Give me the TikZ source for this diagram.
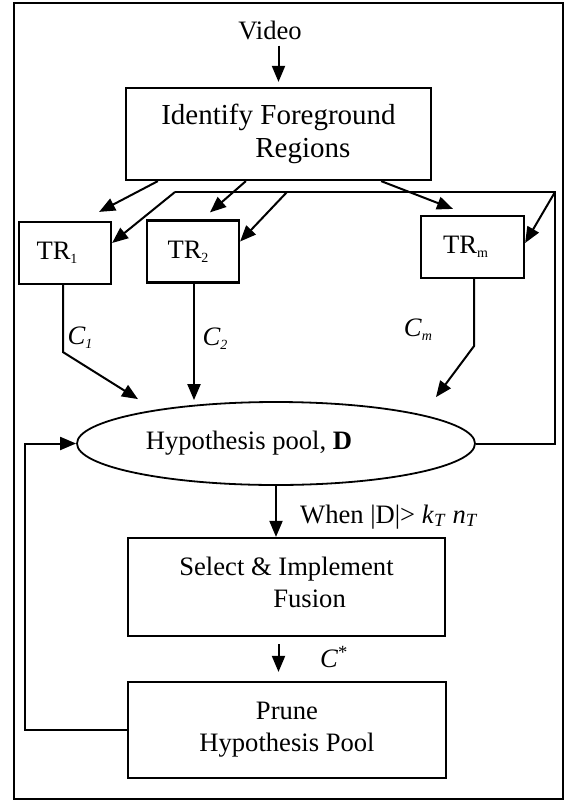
\documentclass[tikz,border=0pt]{standalone}
\usepackage{fontspec}
\setmainfont{Liberation Serif}
\usetikzlibrary{shapes,arrows.meta}
\newcommand{\smallidx}[1]{\raisebox{-4pt}{\fontsize{14}{14}\selectfont #1}}
\tikzset{
  txt/.style={font=\fontsize{26.6}{32}\selectfont},
  blk/.style={txt, draw=black, line width=2.2pt, inner sep=0pt, align=center},
  trk/.style={blk, minimum width=92pt, minimum height=62pt},
  pool/.style={txt, ellipse, draw=black, line width=1.8pt, inner sep=0pt, minimum width=398pt, minimum height=83pt},
  lbl/.style={txt, inner sep=0pt},
  arr/.style={-{Triangle[length=16pt,width=13pt]}, line width=2pt},
  ln/.style={line width=2pt},
  frm/.style={line width=1.8pt},
}
\begin{document}
\begin{tikzpicture}[x=1pt,y=-1pt]
\useasboundingbox (0,0) rectangle (566,801);
\draw[frm] (14,3) rectangle (563,799);

% blocks
\node[lbl] (vid) at (270,30) {Video};
\node[blk, minimum width=305pt, minimum height=92pt, align=left, font=\fontsize{29}{33}\selectfont] (idf) at (278.5,134) {Identify Foreground\\\hspace*{94pt}Regions};
\node[trk] (tr1) at (65,253) {TR\smallidx{1}\hspace*{16pt}};
\node[trk] (tr2) at (193,251.5) {TR\smallidx{2}\hspace*{10pt}};
\node[trk, minimum width=103pt] (trm) at (472.5,247) {TR\smallidx{m}\hspace*{14pt}};
\node[pool] (hyp) at (276,443.5) {Hypothesis pool, \textbf{D}\hspace*{54pt}};
\node[blk, minimum width=317pt, minimum height=98pt, align=left] (sel) at (286.5,587) {Select \& Implement\\\hspace*{94pt}Fusion\strut};
\node[blk, minimum width=318pt, minimum height=96pt] (pru) at (287,730) {Prune\\Hypothesis Pool};

% labels
\node[lbl] (c1) at (80,338) {\textit{C}\smallidx{\textit{1}}};
\node[lbl] (c2) at (215,339) {\textit{C}\smallidx{\textit{2}}};
\node[lbl] (cm) at (418,330) {\textit{C}\smallidx{\textit{m}}};
\node[lbl, anchor=base west] (when) at (300,523) {When |D|> \textit{k}\textsubscript{\textit{T}} \textit{n}\textsubscript{\textit{T}}};
\node[lbl] (cs) at (334,657) {\textit{C}\textsuperscript{*}};

% feedback bus to the trackers
\coordinate (busL) at (175,192);
\coordinate (busM) at (287,192);
\coordinate (busR) at (555,192);
\coordinate (fb) at (25,443.5);

\draw[arr, shorten <=6pt, shorten >=5pt] (vid.south -| idf.north) -- (idf.north);
\draw[arr] ([xshift=33pt]idf.south west) -- ([shift={(-13pt,9pt)}]tr1.north east);
\draw[arr] ([xshift=121pt]idf.south west) -- ([shift={(17pt,7pt)}]tr2.north);
\draw[arr] ([xshift=-51pt]idf.south east) -- ([shift={(-19.5pt,6pt)}]trm.north);
\draw[ln] (hyp.east) -| (busR) -- (busL);
\draw[arr] (busL) -- ([yshift=10pt]tr1.east);
\draw[arr] (busM) -- ([yshift=10pt]tr2.east);
\draw[arr] (busR) -- ([yshift=4pt]trm.east);
\draw[arr] ([xshift=-2pt]tr1.south) -- ++(0,67) -- ([shift={(-138pt,2pt)}]hyp.north);
\draw[arr, shorten >=1pt] ([xshift=1pt]tr2.south) -- ([xshift=1pt]tr2.south |- hyp.north);
\draw[arr] ([xshift=1.5pt]trm.south) -- ++(0,67) -- ([shift={(160pt,4pt)}]hyp.north);
\draw[arr] (hyp.south) -- (hyp.south |- sel.north);
\draw[arr, shorten <=7pt, shorten >=9pt] ([xshift=-8pt]sel.south) -- ([xshift=-8pt]sel.south |- pru.north);
\draw[arr] (pru.west) -| (fb) -- (hyp.west);
\end{tikzpicture}
\end{document}
